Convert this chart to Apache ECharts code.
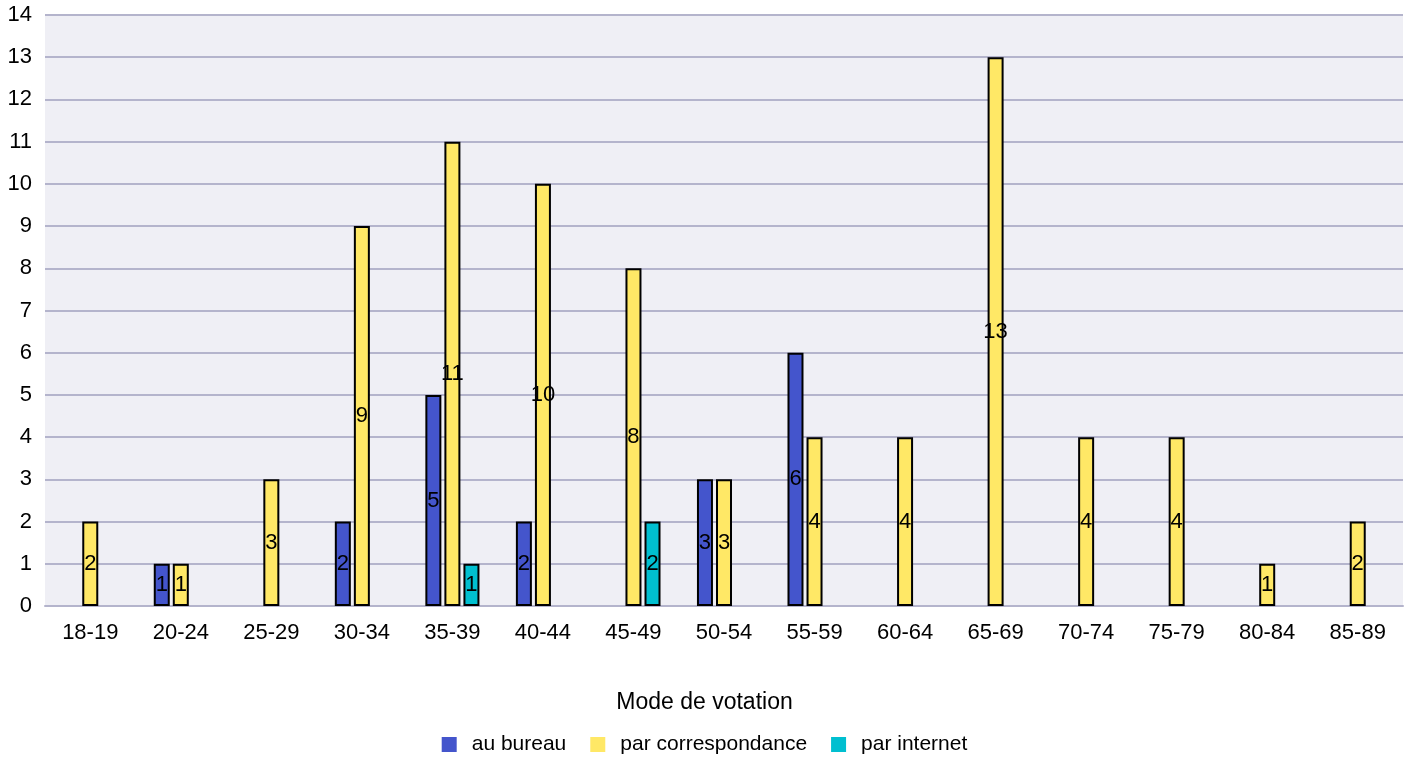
<!DOCTYPE html>
<html>
<head>
<meta charset="utf-8">
<script src="https://cdn.jsdelivr.net/npm/echarts@6/dist/echarts.min.js"></script>
<style>
  html, body { margin: 0; padding: 0; background: #fff; }
  #chart { width: 1409px; height: 757px; }
</style>
</head>
<body>
<div id="chart"></div>
<script>
// tranches d'âge
const categories = ['18-19', '20-24', '25-29', '30-34', '35-39', '40-44', '45-49', '50-54',
  '55-59', '60-64', '65-69', '70-74', '75-79', '80-84', '85-89']
// votants par mode
const auBureau = [0, 1, 0, 2, 5, 2, 0, 3, 6, 0, 0, 0, 0, 0, 0]
const parCorrespondance = [2, 1, 3, 9, 11, 10, 8, 3, 4, 4, 13, 4, 4, 1, 2]
const parInternet = [0, 0, 0, 0, 1, 0, 2, 0, 0, 0, 0, 0, 0, 0, 0]
const yTicks = [0, 14, 1]

const chart = echarts.init(document.getElementById('chart'))

// les zéros ne sont pas dessinés mais gardent leur place
const toBars = arr => arr.map(v => (v === 0 ? '-' : v))

const makeSeries = (name, data, color) => ({
  name: name,
  type: 'bar',
  data: toBars(data),
  barWidth: 16,
  barGap: '19%',
  itemStyle: { color: color, borderColor: '#000', borderWidth: 2 },
  label: {
    show: true,
    position: 'inside',
    color: '#000',
    fontSize: 22,
    fontFamily: 'Liberation Sans'
  }
})

const option = {
  animation: false,
  textStyle: { fontFamily: 'Liberation Sans' },
  title: {
    text: 'Mode de votation',
    left: 'center',
    top: 686,
    textStyle: { fontSize: 23, fontWeight: 'normal', color: '#000' }
  },
  legend: {
    top: 729,
    left: 'center',
    itemWidth: 15,
    itemHeight: 15,
    itemGap: 24,
    icon: 'rect',
    itemStyle: { borderWidth: 0 },
    textStyle: { fontSize: 21, color: '#000', padding: [0, 0, 0, 10] },
    data: ['au bureau', 'par correspondance', 'par internet']
  },
  grid: {
    left: 45,
    right: 6,
    top: 15,
    bottom: 151,
    show: true,
    backgroundColor: '#efeff5',
    borderWidth: 0
  },
  xAxis: {
    type: 'category',
    data: categories,
    axisLine: { lineStyle: { color: '#b4b4cc', width: 2 } },
    axisTick: { show: false },
    axisLabel: { fontSize: 22, color: '#000', margin: 16 }
  },
  yAxis: {
    type: 'value',
    min: yTicks[0],
    max: yTicks[1],
    interval: yTicks[2],
    axisLine: { show: false },
    axisTick: { show: false },
    axisLabel: { fontSize: 22, color: '#000', margin: 13 },
    splitLine: { lineStyle: { color: '#b4b4cc', width: 2 } }
  },
  series: [
    makeSeries('au bureau', auBureau, '#4455cc'),
    makeSeries('par correspondance', parCorrespondance, '#ffe866'),
    makeSeries('par internet', parInternet, '#00bfd0')
  ]
}

chart.setOption(option)
</script>
</body>
</html>
